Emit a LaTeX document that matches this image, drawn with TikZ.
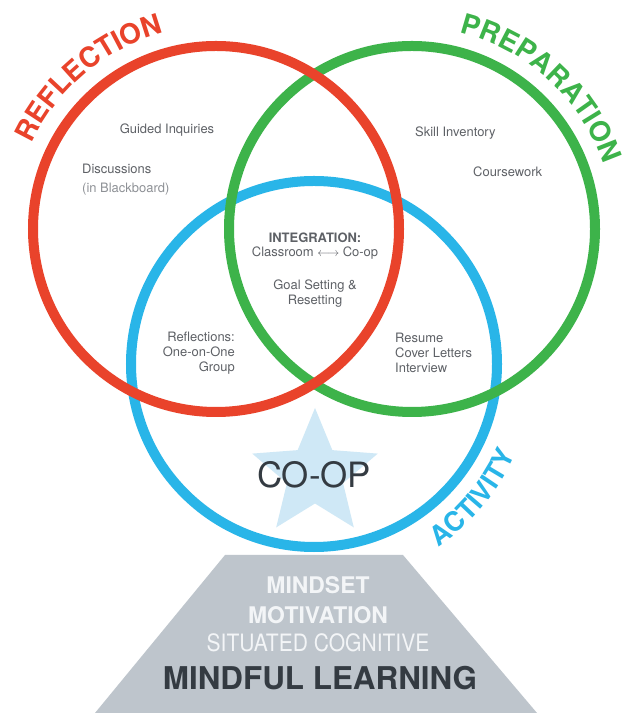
\documentclass[tikz,border=0pt]{standalone}
\usepackage{fontspec}
\setmainfont{TeX Gyre Heros}
\usetikzlibrary{decorations.text}

\definecolor{reflred}{HTML}{E9432B}
\definecolor{prepgreen}{HTML}{3DB34A}
\definecolor{actblue}{HTML}{29B5E8}
\definecolor{starblue}{HTML}{CFE8F6}
\definecolor{basegray}{HTML}{BEC5CC}
\definecolor{labelgray}{HTML}{5E6166}
\definecolor{softgray}{HTML}{8E9196}
\definecolor{inkdark}{HTML}{343B42}
\definecolor{paleink}{HTML}{F3F5F7}

\tikzset{
  ring/.style={line width=10bp},
  itemtext/.style={font=\fontsize{13}{15}\selectfont, text=labelgray, inner sep=0pt},
  basetext/.style={font=\fontsize{23}{26}\selectfont\bfseries, text=paleink, inner sep=0pt},
  arctext/.style={decorate, decoration={text along path, text align=center, text color=#1}},
}

\begin{document}
\begin{tikzpicture}[x=1bp,y=1bp]
  \useasboundingbox (0,0) rectangle (629,713);
  \fill[white] (0,0) rectangle (629,713);

  % foundation trapezoid
  \fill[basegray] (225,158) -- (403,158) -- (537,0) -- (95,0) -- cycle;

  % star behind the CO-OP label
  \fill[starblue, shift={(315,239)}] (90:66bp)
    \foreach \k in {0,...,4} { -- ({126+72*\k}:29.5bp) -- ({162+72*\k}:66bp) } -- cycle;

  % the three rings
  \draw[ring, actblue]   (314,349) circle[radius=183bp];
  \draw[ring, prepgreen] (412,484) circle[radius=183bp];
  \draw[ring, reflred]   (216,484) circle[radius=183bp];

  % ring titles set along arcs
  \path[arctext=reflred, decoration={text={|\fontsize{28}{28}\selectfont\bfseries|REFLECTION}}]
    (216,484) ++(162:203bp) arc[start angle=162, end angle=98, radius=203bp];
  \path[arctext=prepgreen, decoration={text={|\fontsize{28}{28}\selectfont\bfseries|PREPARATION}}]
    (412,484) ++(82:202bp) arc[start angle=82, end angle=13, radius=202bp];
  \path[arctext=actblue, decoration={text={|\fontsize{27}{27}\selectfont\bfseries|ACTIVITY}}]
    (314,349) ++(-62:221bp) arc[start angle=-62, end angle=-18, radius=221bp];

  % reflection items
  \node[itemtext] (guided) at (167,583) {Guided Inquiries};
  \node[itemtext, anchor=west] (disc) at (82,544) {Discussions};
  \node[itemtext, anchor=west, text=softgray] (board) at (82,524) {(in Blackboard)};

  % preparation items
  \node[itemtext, anchor=west] (skill) at (415,580) {Skill Inventory};
  \node[itemtext, anchor=west] (course) at (473,541) {Coursework};

  % centre
  \node[itemtext, font=\fontsize{13}{15}\selectfont\bfseries] (integ) at (315,475) {INTEGRATION:};
  \node[itemtext] (classco) at (315,460) {Classroom $\longleftrightarrow$ Co-op};
  \node[itemtext, align=center] (goal) at (315,419) {Goal Setting \&\\Resetting};

  % activity overlaps
  \node[itemtext, anchor=east, align=right] (refl) at (235,360)
    {Reflections:\\One-on-One\\Group};
  \node[itemtext, anchor=west, align=left] (resume) at (395,360)
    {Resume\\Cover Letters\\Interview};

  % co-op
  \node[font=\fontsize{35}{35}\selectfont, text=inkdark, inner sep=0pt] (coop) at (314,238) {CO-OP};

  % foundation labels
  \node[basetext] (mindset) at (318,128) {MINDSET};
  \node[basetext] (motiv) at (318,98) {MOTIVATION};
  \node[basetext, font=\fontsize{24}{26}\selectfont] (situ) at (318,70)
    {\scalebox{0.88}[1]{SITUATED COGNITIVE}};
  \node[font=\fontsize{31.5}{34}\selectfont\bfseries, text=inkdark, inner sep=0pt] (mindful) at (320,35) {MINDFUL LEARNING};
\end{tikzpicture}
\end{document}
